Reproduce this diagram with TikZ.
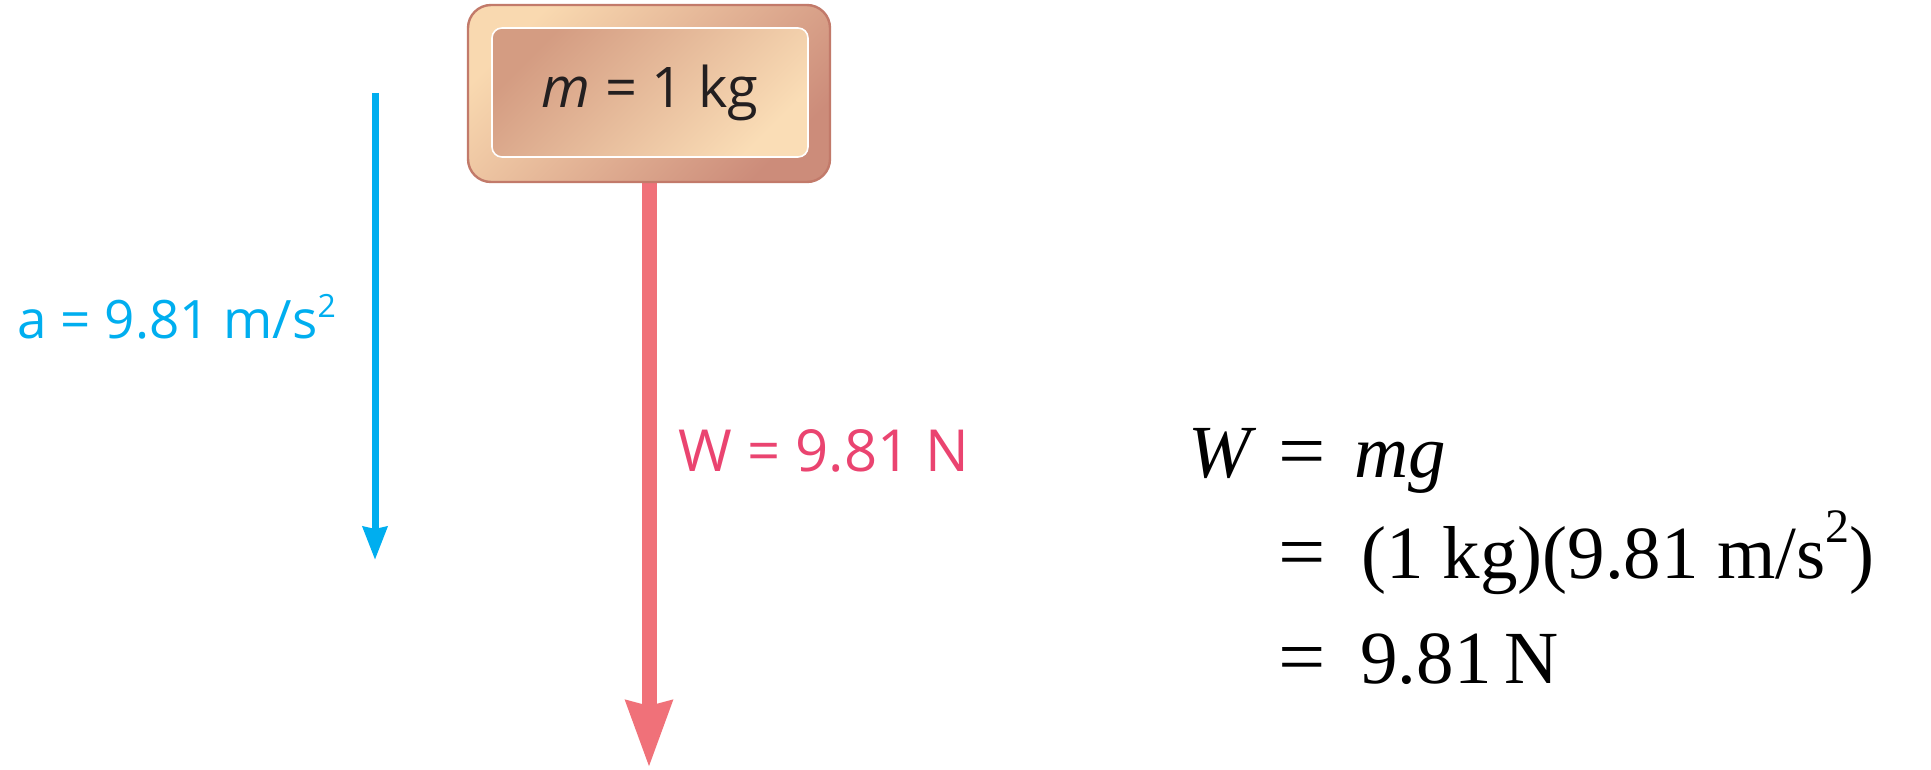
\documentclass[tikz,border=0pt]{standalone}
\usepackage{fontspec}
\setmainfont{Liberation Serif}
\newfontfamily\labfont{Open Sans}
\newfontfamily\eqfont{Liberation Serif}
\usetikzlibrary{arrows.meta,backgrounds}
\definecolor{accblue}{HTML}{00AEEF}
\definecolor{forcered}{HTML}{F07179}
\definecolor{forcetext}{HTML}{EA4470}
\definecolor{boxlight}{HTML}{F9D9B0}
\definecolor{boxdark}{HTML}{CC8C7A}
\definecolor{boxedge}{HTML}{C27A6A}
\definecolor{innerdark}{HTML}{D49C82}
\definecolor{innerlight}{HTML}{FADDB6}
\definecolor{txtdark}{HTML}{231F20}
\newcommand{\labsup}[1]{\raisebox{0.38em}{\fontsize{16}{16}\selectfont #1}}
\newcommand{\eqsup}[1]{\raisebox{0.47em}{\fontsize{24}{24}\selectfont #1}}
\newcommand{\wideeq}{\scalebox{1.12}[1.05]{=}}
\tikzset{
  outerbox/.style={draw=boxedge, line width=1.2pt, rounded corners=11.5pt,
    top color=boxlight, bottom color=boxdark, shading angle=45,
    minimum width=181pt, minimum height=88.5pt, inner sep=0pt},
  innerbox/.style={draw=white, line width=0.8pt, rounded corners=5pt,
    top color=innerdark, bottom color=innerlight, shading angle=45,
    minimum width=158pt, minimum height=64.5pt, inner sep=0pt,
    font=\labfont\fontsize{28}{32}\selectfont, text=txtdark},
  blabel/.style={anchor=base west, inner sep=0pt, text=accblue,
    font=\labfont\fontsize{26.5}{30}\selectfont},
  rlabel/.style={anchor=base west, inner sep=0pt, text=forcetext,
    font=\labfont\fontsize{29}{32}\selectfont},
  eqtext/.style={anchor=base west, inner sep=0pt, text=black,
    font=\eqfont\fontsize{37.5}{40}\selectfont},
  accarrow/.style={draw=accblue, line width=3.5pt,
    -{Stealth[width=12pt, length=16.5pt, inset=1pt]}},
  forcearrow/.style={draw=forcered, line width=7.5pt,
    -{Stealth[width=22pt, length=33pt, inset=2pt]}}
}
\begin{document}
\begin{tikzpicture}[x=0.5pt, y=-0.5pt]
\useasboundingbox (0,0) rectangle (1931,770);
% mass block
\node[outerbox] (mass) at (649,93.5) {};
\node[innerbox] (inner) at (650,92.5) {\textit{m} = 1 kg};
% weight arrow
\coordinate (wtip) at (649,768);
\begin{scope}[on background layer]
\draw[forcearrow] (mass.south) -- (wtip);
\end{scope}
\node[rlabel] (wlab) at (678,471) {W = 9.81 N};
% acceleration arrow
\coordinate (atop) at (375,93);
\coordinate (atip) at (375,560);
\draw[accarrow] (atop) -- (atip);
\node[blabel] (alab) at (17,338) {a = 9.81 m/s\labsup{2}};
% equation
\node[eqtext] (eqW) at (1188,477) {\textit{W}};
\node[eqtext] (eq1) at (1278,477) {\wideeq};
\node[eqtext] (eqmg) at (1354,477) {\textit{mg}};
\node[eqtext] (eq2) at (1278,578) {\wideeq};
\node[eqtext] (eqv) at (1361,578) {(1 kg)(9.81 m/s\eqsup{2})};
\node[eqtext] (eq3) at (1278,683) {\wideeq};
\node[eqtext] (eqr) at (1360,683) {9.81\,N};
\end{tikzpicture}
\end{document}
